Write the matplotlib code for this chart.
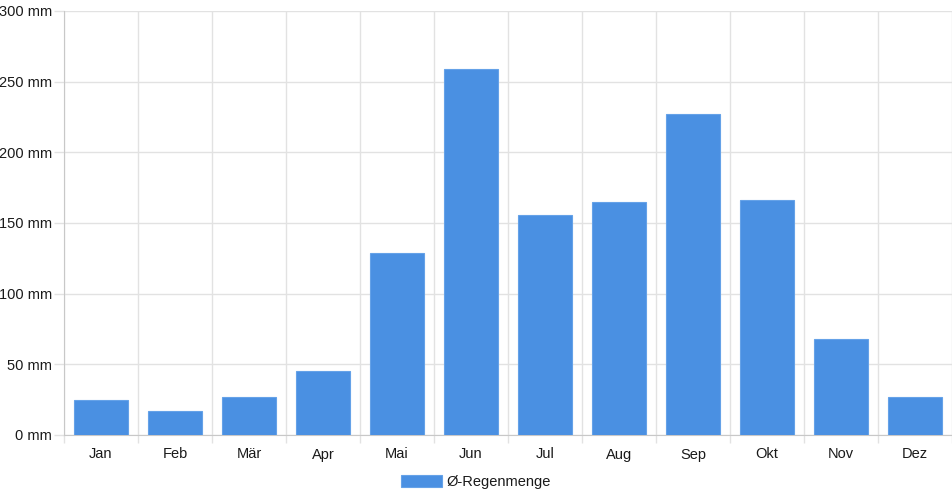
import numpy as np
import matplotlib.pyplot as plt
from matplotlib.patches import Patch

months = ["Jan", "Feb", "Mär", "Apr", "Mai", "Jun", "Jul", "Aug", "Sep", "Okt", "Nov", "Dez"]
rain_mm = [25, 17, 27, 45, 129, 259, 156, 165, 227, 166, 68, 27]
y_ticks = [0, 50, 100, 150, 200, 250, 300]

bar_color = "#4a90e2"
grid_color = "#e2e2e2"

plt.rcParams["font.family"] = ["Liberation Sans", "DejaVu Sans"]

fig = plt.figure(figsize=(9.52, 5.0), dpi=100)
ax = fig.add_axes([64 / 952, 1 - 435 / 500, 1 - 64 / 952, (435 - 11) / 500])

x = np.arange(len(months))
ax.bar(x, rain_mm, width=0.72, color=bar_color, edgecolor="#65a2e8",
       linewidth=0.8, zorder=3)

ax.set_xlim(-0.5, len(months) - 0.5)
ax.set_ylim(0, 300)

# category labels centred, grid on category boundaries
ax.set_xticks(x)
ax.set_xticklabels(months)
ax.set_xticks(np.arange(-0.5, len(months)), minor=True)
ax.tick_params(axis="x", which="major", length=0, pad=9, labelsize=10.5, labelcolor="#1a1a1a")
ax.tick_params(axis="x", which="minor", length=6, color=grid_color, width=1)
ax.grid(True, axis="x", which="minor", color=grid_color, linewidth=1, zorder=0)

ax.set_yticks(y_ticks)
ax.set_yticklabels([f"{v} mm" for v in y_ticks])
ax.tick_params(axis="y", length=7, color=grid_color, width=1, pad=1.5,
               labelsize=10.5, labelcolor="#1a1a1a")
ax.grid(True, axis="y", color=grid_color, linewidth=1, zorder=0)

for side in ["top", "right"]:
    ax.spines[side].set_visible(False)
ax.spines["left"].set_color("#c8c8c8")
ax.spines["bottom"].set_color("#c8c8c8")

handle = Patch(facecolor=bar_color, edgecolor="#65a2e8", linewidth=0.8, label="Ø-Regenmenge")
fig.legend(handles=[handle], loc="center", bbox_to_anchor=(476 / 952, 1 - 482 / 500),
           frameon=False, fontsize=10.5, handlelength=2.8, handleheight=0.85,
           handletextpad=0.35, labelcolor="#1a1a1a")

fig.savefig("out.png", dpi=100)
